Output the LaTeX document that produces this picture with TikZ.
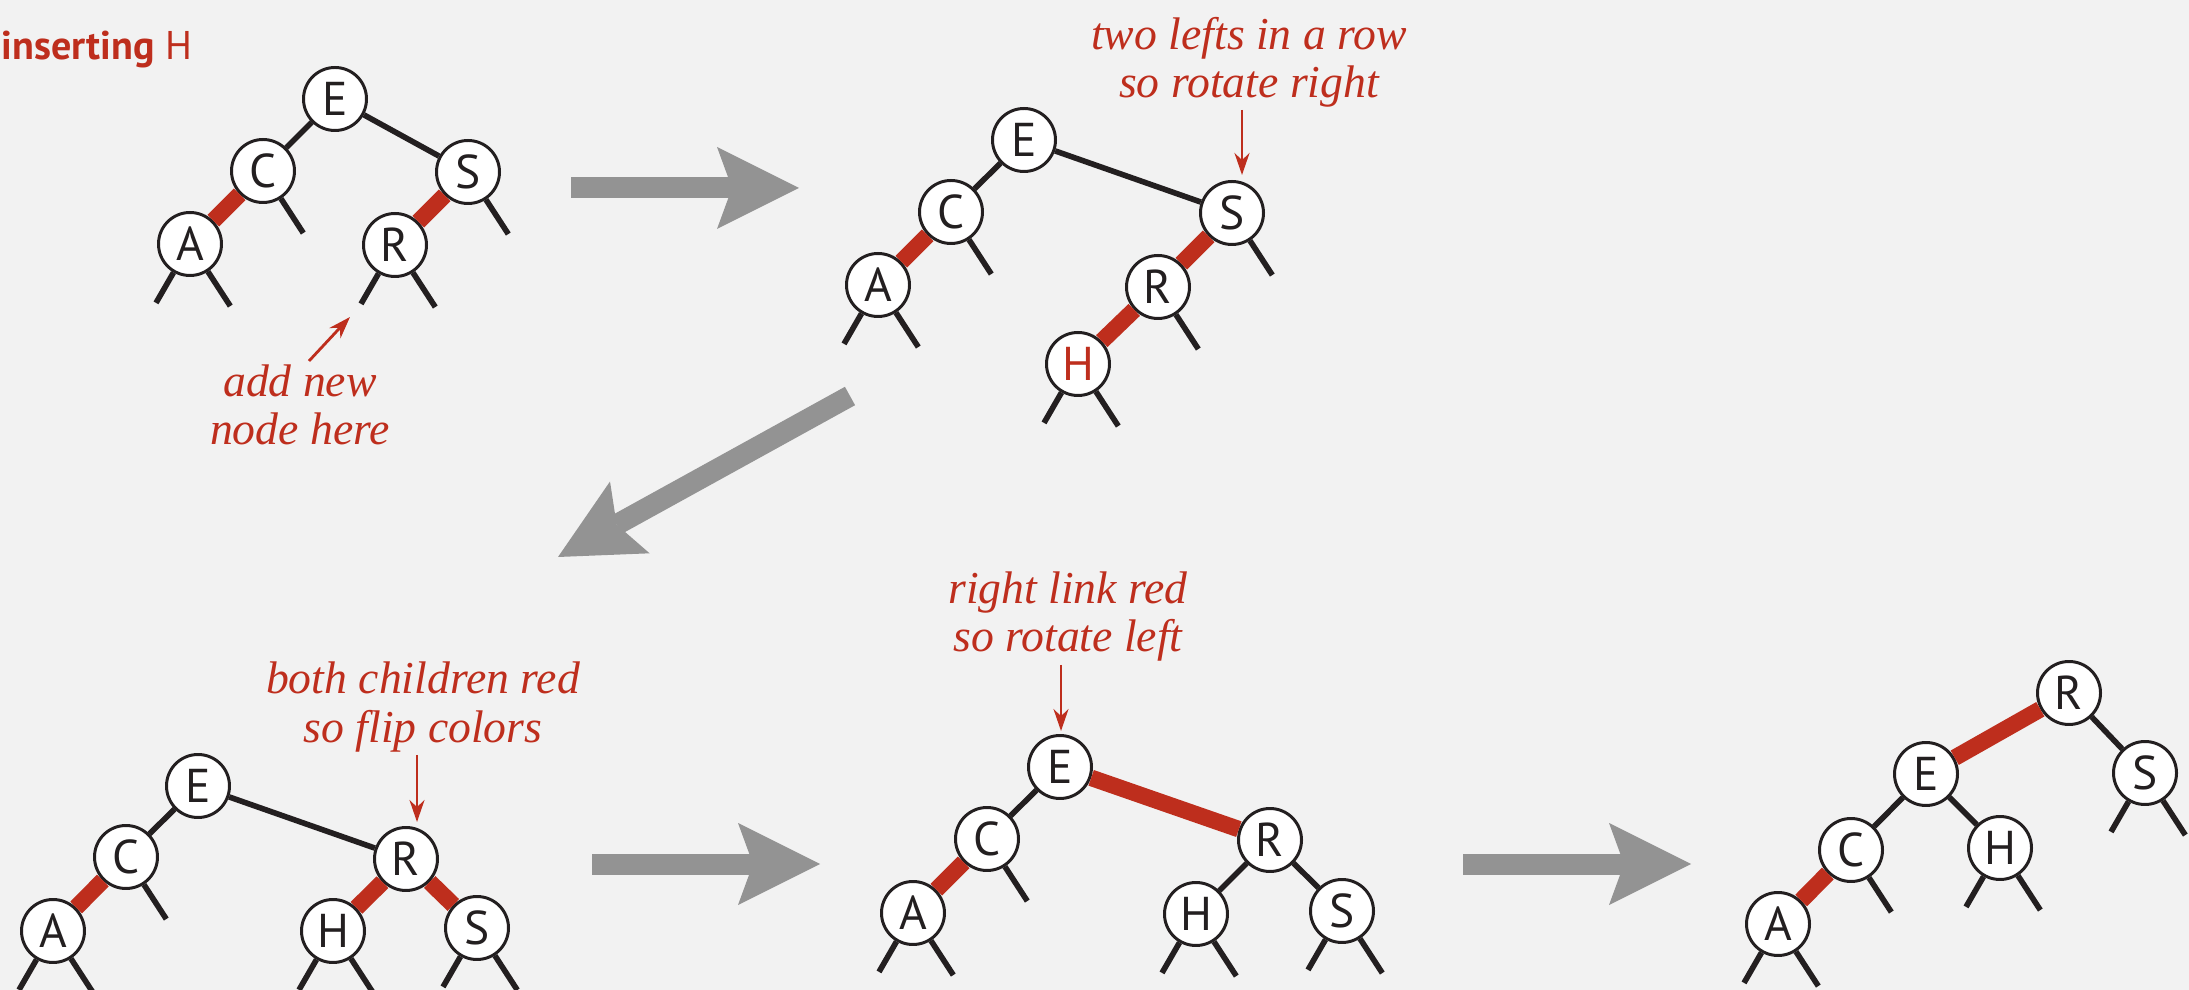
\documentclass[tikz,border=0pt]{standalone}
\usepackage{fontspec}
\setmainfont{Liberation Serif}
\setsansfont{PT Sans}
\usetikzlibrary{arrows.meta, positioning, calc}
\definecolor{rouge}{RGB}{190,46,29}
\definecolor{gris}{RGB}{147,147,147}
\definecolor{fond}{RGB}{242,242,242}
\definecolor{noir}{RGB}{35,31,32}

\begin{document}
\begin{tikzpicture}[x=0.1mm, y=-0.1mm,
    noeud/.style={circle, draw=noir, line width=0.85pt, fill=white, minimum size=6.3mm,
      inner sep=0pt, text=noir, font=\sffamily\fontsize{13.5}{14}\selectfont},
    lien/.style={draw=noir, line width=1.6pt},
    lienrouge/.style={draw=rouge, line width=4.7pt},
    fleche/.style={draw=gris, line width=2.1mm,
      -{Stealth[length=8.2mm, width=8.2mm, inset=1.5mm, line width=0pt]}},
    note/.style={text=rouge, align=center, font=\itshape\fontsize{13}{13.66}\selectfont},
    pointe/.style={draw=rouge, line width=0.8pt, -{Stealth[length=2.2mm, width=1.5mm]}}]
  \useasboundingbox[fill=fond] (0,0) rectangle (2189,990);

  \node[anchor=base west, inner sep=0pt, text=rouge, font=\sffamily\fontsize{11.4}{12}\selectfont] (titre) at (1,60) {\textbf{inserting} H};

  % etape 1
  \node[noeud] (E1) at (335,99) {E};
  \node[noeud] (C1) at (263,171) {C};
  \node[noeud] (S1) at (468,172) {S};
  \node[noeud] (A1) at (190,244) {A};
  \node[noeud] (R1) at (395,245) {R};
  \draw[lien] (E1) -- (C1);
  \draw[lien] (E1) -- (S1);
  \draw[lienrouge] (C1) -- (A1);
  \draw[lienrouge] (S1) -- (R1);
  \foreach \n in {A1,R1} \draw[lien] (\n) -- ++(120:68);
  \foreach \n in {A1,C1,S1,R1} \draw[lien] (\n) -- ++(57:74);
  \node[note, anchor=base] (n1) at (300,445) {add new\\node here};
  \coordinate (p1a) at (309,361);
  \coordinate (p1b) at (350,317);
  \draw[pointe] (p1a) -- (p1b);

  % etape 2
  \node[noeud] (E2) at (1024,140) {E};
  \node[noeud] (C2) at (951,212) {C};
  \node[noeud] (A2) at (878,285) {A};
  \node[noeud] (S2) at (1232,213) {S};
  \node[noeud] (R2) at (1158,287) {R};
  \node[noeud, text=rouge] (H2) at (1078,364) {H};
  \draw[lien] (E2) -- (C2);
  \draw[lien] (E2) -- (S2);
  \draw[lienrouge] (C2) -- (A2);
  \draw[lienrouge] (S2) -- (R2);
  \draw[lienrouge] (R2) -- (H2);
  \foreach \n in {A2,H2} \draw[lien] (\n) -- ++(120:68);
  \foreach \n in {A2,C2,S2,R2,H2} \draw[lien] (\n) -- ++(57:74);
  \node[note, anchor=base] (n2) at (1249,98) {two lefts in a row\\so rotate right};
  \coordinate (p2a) at (1242,110);
  \coordinate (p2b) at (1242,175);
  \draw[pointe] (p2a) -- (p2b);

  % etape 3
  \node[noeud] (E3) at (198,786) {E};
  \node[noeud] (C3) at (126,857) {C};
  \node[noeud] (A3) at (53,931) {A};
  \node[noeud] (R3) at (406,859) {R};
  \node[noeud] (H3) at (333,931) {H};
  \node[noeud] (S3) at (477,928) {S};
  \draw[lien] (E3) -- (C3);
  \draw[lien] (E3) -- (R3);
  \draw[lienrouge] (C3) -- (A3);
  \draw[lienrouge] (R3) -- (H3);
  \draw[lienrouge] (R3) -- (S3);
  \foreach \n in {A3,H3,S3} \draw[lien] (\n) -- ++(120:68);
  \foreach \n in {A3,C3,H3,S3} \draw[lien] (\n) -- ++(57:74);
  \node[note, anchor=base] (n3) at (423,742) {both children red\\so flip colors};
  \coordinate (p3a) at (417,755);
  \coordinate (p3b) at (417,822);
  \draw[pointe] (p3a) -- (p3b);

  % etape 4
  \node[noeud] (E4) at (1060,767) {E};
  \node[noeud] (C4) at (987,839) {C};
  \node[noeud] (A4) at (913,913) {A};
  \node[noeud] (R4) at (1270,840) {R};
  \node[noeud] (H4) at (1196,914) {H};
  \node[noeud] (S4) at (1342,911) {S};
  \draw[lien] (E4) -- (C4);
  \draw[lienrouge] (E4) -- (R4);
  \draw[lienrouge] (C4) -- (A4);
  \draw[lien] (R4) -- (H4);
  \draw[lien] (R4) -- (S4);
  \foreach \n in {A4,H4,S4} \draw[lien] (\n) -- ++(120:68);
  \foreach \n in {A4,C4,H4,S4} \draw[lien] (\n) -- ++(57:74);
  \node[note, anchor=base] (n4) at (1068,652) {right link red\\so rotate left};
  \coordinate (p4a) at (1061,665);
  \coordinate (p4b) at (1061,731);
  \draw[pointe] (p4a) -- (p4b);

  % etape 5
  \node[noeud] (R5) at (2069,693) {R};
  \node[noeud] (E5) at (1926,774) {E};
  \node[noeud] (S5) at (2145,773) {S};
  \node[noeud] (C5) at (1851,850) {C};
  \node[noeud] (H5) at (2000,848) {H};
  \node[noeud] (A5) at (1778,924) {A};
  \draw[lienrouge] (R5) -- (E5);
  \draw[lien] (R5) -- (S5);
  \draw[lien] (E5) -- (C5);
  \draw[lien] (E5) -- (H5);
  \draw[lienrouge] (C5) -- (A5);
  \foreach \n in {A5,H5,S5} \draw[lien] (\n) -- ++(120:68);
  \foreach \n in {A5,C5,H5,S5} \draw[lien] (\n) -- ++(57:74);

  % fleches grises
  \coordinate (f1a) at (571,188);
  \coordinate (f1b) at (799,188);
  \coordinate (f2a) at (850,396);
  \coordinate (f2b) at (558,557);
  \coordinate (f3a) at (592,864);
  \coordinate (f3b) at (820,864);
  \coordinate (f4a) at (1463,864);
  \coordinate (f4b) at (1691,864);
  \draw[fleche] (f1a) -- (f1b);
  \draw[fleche] (f2a) -- (f2b);
  \draw[fleche] (f3a) -- (f3b);
  \draw[fleche] (f4a) -- (f4b);
\end{tikzpicture}
\end{document}
